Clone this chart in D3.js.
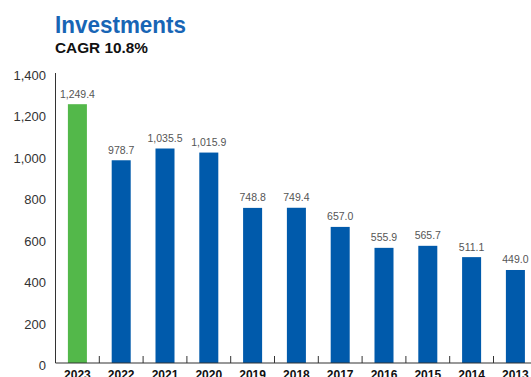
<!DOCTYPE html>
<html>
<head>
<meta charset="utf-8">
<script src="https://cdn.jsdelivr.net/npm/d3@7"></script>
<style>
  html, body { margin: 0; padding: 0; background: #fff; }
  svg { display: block; }
  text { font-family: "Liberation Sans", Arial, Helvetica, sans-serif; }
</style>
</head>
<body>
<svg id="chart" width="531" height="377"></svg>
<script>
// Investments by year, newest first
const years = ["2023", "2022", "2021", "2020", "2019", "2018", "2017", "2016", "2015", "2014", "2013"];
const investments = [1249.4, 978.7, 1035.5, 1015.9, 748.8, 749.4, 657.0, 555.9, 565.7, 511.1, 449.0];
const yTicks = [0, 200, 400, 600, 800, 1000, 1200, 1400];
const highlightYear = "2023";

const svg = d3.select("#chart");
const x0 = 55.5, y0 = 363, yTop = 73;
const step = 43.8;

const x = d3.scaleBand()
  .domain(years)
  .range([x0, x0 + step * years.length])
  .paddingInner(0.566)
  .paddingOuter(0.283);

const y = d3.scaleLinear().domain([0, 1400]).range([y0, yTop]);

// Title
svg.append("text")
  .attr("x", 55).attr("y", 33)
  .attr("fill", "#1865b5")
  .attr("font-size", 24)
  .attr("font-weight", "bold")
  .attr("textLength", 131)
  .attr("lengthAdjust", "spacingAndGlyphs")
  .text("Investments");

svg.append("text")
  .attr("x", 55).attr("y", 52.7)
  .attr("fill", "#111")
  .attr("font-size", 14)
  .attr("font-weight", "bold")
  .attr("textLength", 93)
  .attr("lengthAdjust", "spacingAndGlyphs")
  .text("CAGR 10.8%");

// Y axis line and labels
svg.append("line")
  .attr("x1", x0).attr("x2", x0)
  .attr("y1", yTop).attr("y2", y0)
  .attr("stroke", "#333").attr("stroke-width", 1);

svg.append("g").selectAll("text")
  .data(yTicks)
  .join("text")
  .attr("x", 46)
  .attr("y", d => y(d) + 7)
  .attr("text-anchor", "end")
  .attr("fill", "#333")
  .attr("font-size", 13)
  .text(d => d3.format(",")(d));

// Bars
svg.append("g").selectAll("rect")
  .data(years)
  .join("rect")
  .attr("x", d => x(d))
  .attr("width", x.bandwidth())
  .attr("y", (d, i) => y(investments[i]))
  .attr("height", (d, i) => y0 - y(investments[i]))
  .attr("fill", d => d === highlightYear ? "#53b84a" : "#005aab");

// Value labels
svg.append("g").selectAll("text")
  .data(years)
  .join("text")
  .attr("x", d => x(d) + x.bandwidth() / 2)
  .attr("y", (d, i) => y(investments[i]) - 6.5)
  .attr("text-anchor", "middle")
  .attr("fill", "#555")
  .attr("font-size", 10.5)
  .text((d, i) => d3.format(",.1f")(investments[i]));

// X axis baseline with ticks between bands
svg.append("line")
  .attr("x1", x0).attr("x2", 531)
  .attr("y1", y0).attr("y2", y0)
  .attr("stroke", "#333").attr("stroke-width", 1.2);

svg.append("g").selectAll("line")
  .data(years.slice(1))
  .join("line")
  .attr("x1", d => x(d) - x.step() * x.paddingInner() / 2)
  .attr("x2", d => x(d) - x.step() * x.paddingInner() / 2)
  .attr("y1", y0).attr("y2", y0 - 7)
  .attr("stroke", "#333").attr("stroke-width", 1);

svg.append("g").selectAll("text")
  .data(years)
  .join("text")
  .attr("x", d => x(d) + x.bandwidth() / 2)
  .attr("y", 378.5)
  .attr("text-anchor", "middle")
  .attr("fill", "#111")
  .attr("font-size", 12)
  .attr("font-weight", "bold")
  .text(d => d);
</script>
</body>
</html>
